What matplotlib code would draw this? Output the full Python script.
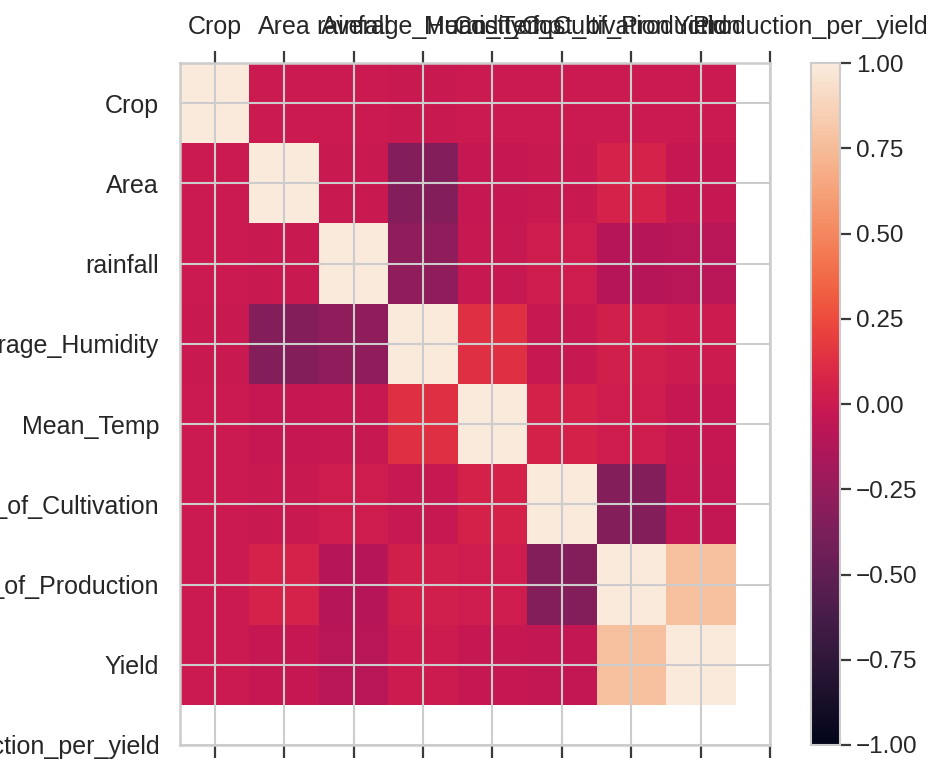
import matplotlib
matplotlib.use("Agg")
import matplotlib.pyplot as plt
import matplotlib.transforms as mtransforms
import numpy as np
import seaborn as sns

sns.set_style("whitegrid")
plt.rcParams['font.family'] = ['Liberation Sans', 'DejaVu Sans']

# column labels (the last one has no numeric correlation row)
labels = ["Crop", "Area", "rainfall", "Average_Humidity", "Mean_Temp",
          "Cost_of_Cultivation", "Cost_of_Production", "Yield",
          "Production_per_yield"]

# correlation rows
crop = [1.00, 0.00, 0.00, -0.01, 0.00, 0.00, 0.00, 0.00]
area = [0.00, 1.00, -0.01, -0.33, -0.03, -0.01, 0.06, -0.03]
rainfall = [0.00, -0.01, 1.00, -0.28, -0.02, 0.02, -0.10, -0.09]
humidity = [-0.01, -0.33, -0.28, 1.00, 0.13, -0.02, 0.04, 0.01]
mean_temp = [0.00, -0.03, -0.02, 0.13, 1.00, 0.05, 0.02, -0.03]
cultivation = [0.00, -0.01, 0.02, -0.02, 0.05, 1.00, -0.33, -0.04]
production = [0.00, 0.06, -0.10, 0.04, 0.02, -0.33, 1.00, 0.78]
yield_ = [0.00, -0.03, -0.09, 0.01, -0.03, -0.04, 0.78, 1.00]

corr = np.array([crop, area, rainfall, humidity, mean_temp,
                 cultivation, production, yield_])

fig = plt.figure(figsize=(9.34, 7.63), dpi=100)
ax = fig.add_axes([0.1927, 0.0236, 0.6317, 0.8938])
cax = fig.add_axes([0.868, 0.0236, 0.031, 0.8938])

cmap = sns.color_palette("rocket", as_cmap=True)
im = ax.imshow(corr, cmap=cmap, vmin=-1, vmax=1, aspect='auto',
               interpolation='nearest')

ax.set_xticks(range(len(labels)))
ax.set_yticks(range(len(labels)))
ax.set_xticklabels(labels)
ax.set_yticklabels(labels)
ax.set_xlim(-0.5, len(labels) - 1)
ax.set_ylim(len(labels) - 1, -0.5)

ax.tick_params(axis='x', top=True, bottom=True, labeltop=True,
               labelbottom=False, length=9, width=1.6, pad=8,
               color='#3a3a3a', direction='out')
ax.tick_params(axis='both', labelsize=18, labelcolor='#262626')
ax.tick_params(axis='y', left=False, length=0, pad=15)
ax.grid(True, color='#cccccc', linewidth=1.5)
for s in ax.spines.values():
    s.set_color('#cccccc')
    s.set_linewidth(1.8)

# the last top label sits a bit to the right in the original
last = ax.xaxis.get_major_ticks()[-1].label2
last.set_transform(last.get_transform() +
                   mtransforms.ScaledTranslation(0.4, 0, fig.dpi_scale_trans))

cb = fig.colorbar(im, cax=cax)
cb.set_ticks(np.arange(-1, 1.01, 0.25))
cb.ax.tick_params(labelsize=17.5, length=8, width=1.6, color='#3a3a3a',
                  labelcolor='#262626')
cb.outline.set_edgecolor('#cccccc')
cb.outline.set_linewidth(1.5)

fig.savefig("out.png", dpi=100)
